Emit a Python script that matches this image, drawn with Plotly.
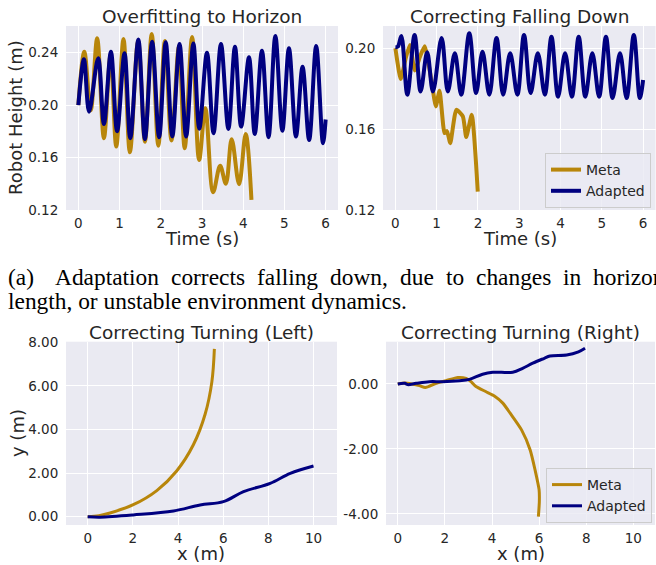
import plotly.graph_objects as go

W, H = 656, 565

# ---------------- data ----------------
# Top-left: Overfitting to Horizon
tl_meta_t = [0, 0.144, 0.30, 0.456, 0.62, 0.78, 0.92, 1.095, 1.25, 1.45, 1.615, 1.78, 1.94, 2.10,
             2.26, 2.44, 2.58, 2.76, 2.93, 3.08, 3.27, 3.44, 3.58, 3.72, 3.90, 4.06, 4.2]
tl_meta_h = [0.200, 0.2408, 0.196, 0.251, 0.1747, 0.238, 0.1683, 0.2505, 0.164, 0.249, 0.172, 0.2543,
             0.169, 0.249, 0.173, 0.245, 0.167, 0.252, 0.158, 0.1976, 0.1335, 0.1536, 0.140, 0.174,
             0.1396, 0.178, 0.1276]
tl_adapt_t = [0, 0.135, 0.26, 0.48, 0.62, 0.79, 0.94, 1.12, 1.26, 1.455, 1.615, 1.79, 1.96, 2.12, 2.28,
              2.455, 2.615, 2.79, 2.935, 3.12, 3.28, 3.46, 3.64, 3.80, 3.95, 4.14, 4.28, 4.455, 4.615,
              4.78, 4.95, 5.11, 5.28, 5.44, 5.60, 5.77, 5.935, 6.0]
tl_adapt_h = [0.200, 0.235, 0.195, 0.2357, 0.1856, 0.2408, 0.180, 0.2395, 0.1747, 0.250, 0.174, 0.2484,
              0.1755, 0.248, 0.176, 0.2466, 0.176, 0.247, 0.182, 0.240, 0.1786, 0.2466, 0.1818, 0.2446,
              0.1836, 0.2365, 0.178, 0.2415, 0.1755, 0.2527, 0.1805, 0.2434, 0.176, 0.2293, 0.1733,
              0.2451, 0.1709, 0.189]

# Top-right: Correcting Falling Down
tr_meta_t = [0, 0.13, 0.25, 0.35, 0.47, 0.60, 0.71, 0.87, 0.98, 1.07, 1.19, 1.25, 1.33, 1.475, 1.635,
             1.715, 1.85, 1.995]
tr_meta_h = [0.200, 0.1847, 0.195, 0.2016, 0.189, 0.196, 0.201, 0.1843, 0.1712, 0.179, 0.158, 0.159,
             0.153, 0.1695, 0.1662, 0.156, 0.167, 0.129]
tr_adapt_t = [0, 0.06, 0.144, 0.29, 0.465, 0.61, 0.77, 0.91, 1.12, 1.27, 1.44, 1.595, 1.79, 1.955, 2.11,
              2.275, 2.45, 2.61, 2.78, 2.955, 3.115, 3.275, 3.45, 3.62, 3.78, 3.94, 4.11, 4.275, 4.44,
              4.60, 4.77, 4.935, 5.10, 5.26, 5.44, 5.60, 5.775, 5.92, 6.0]
tr_adapt_h = [0.2005, 0.2008, 0.206, 0.177, 0.2066, 0.1786, 0.198, 0.1786, 0.2050, 0.1786, 0.1975, 0.177,
              0.2074, 0.1778, 0.1983, 0.177, 0.2050, 0.177, 0.1975, 0.177, 0.2066, 0.1778, 0.1975, 0.177,
              0.2057, 0.176, 0.1975, 0.176, 0.2057, 0.176, 0.1975, 0.176, 0.2057, 0.1753, 0.1975, 0.1753,
              0.2066, 0.1753, 0.1843]

# Bottom-left: Correcting Turning (Left)
bl_meta_x = [0, 0.5, 0.99, 2.02, 3.06, 3.94, 4.68, 5.2, 5.5, 5.61]
bl_meta_y = [0, 0.05, 0.17, 0.55, 1.2, 2.1, 3.3, 4.7, 6.2, 7.7]
bl_adapt_x = [0, 0.55, 2.02, 3.8, 4.98, 6.01, 6.9, 8.08, 8.97, 10.0]
bl_adapt_y = [0, -0.02, 0.08, 0.26, 0.54, 0.69, 1.15, 1.53, 1.99, 2.33]

# Bottom-right: Correcting Turning (Right)
br_meta_x = [0, 0.3, 0.6, 0.92, 1.17, 1.63, 2.05, 2.55, 2.9, 3.11, 3.32, 3.75, 4.1, 4.46, 4.77, 5.26,
             5.62, 5.83, 6.0, 6.01, 5.97]
br_meta_y = [0, 0.03, 0, -0.05, -0.11, 0.02, 0.10, 0.20, 0.17, 0.07, -0.08, -0.24, -0.37, -0.59, -0.9,
             -1.42, -2.03, -2.65, -3.26, -3.62, -4.08]
br_adapt_x = [0, 0.3, 0.42, 0.78, 1.34, 1.91, 2.62, 3.04, 3.6, 4.03, 4.88, 5.3, 5.73, 6.22, 6.46, 7.17,
              7.67, 7.95]
br_adapt_y = [0, 0.02, -0.02, 0.02, 0.07, 0.07, 0.10, 0.14, 0.30, 0.36, 0.36, 0.48, 0.64, 0.79, 0.86,
              0.89, 0.99, 1.10]

series_names = ["Meta", "Adapted"]
titles = ["Overfitting to Horizon", "Correcting Falling Down",
          "Correcting Turning (Left)", "Correcting Turning (Right)"]
time_ticks = [0, 1, 2, 3, 4, 5, 6]
tl_yticks = [0.12, 0.16, 0.20, 0.24]
tr_yticks = [0.12, 0.16, 0.20]
bl_xticks = [0, 2, 4, 6, 8, 10]
bl_yticks = [0, 2, 4, 6, 8]
br_xticks = [0, 2, 4, 6, 8, 10]
br_yticks = [-4, -2, 0]
caption_words = ["(a)", "Adaptation", "corrects", "falling", "down,", "due", "to", "changes", "in", "horizon"]
caption_line2 = "length, or unstable environment dynamics."

# ---------------- styling ----------------
GOLD = "#B8860B"
NAVY = "#000080"
TXT = "#262626"
FONT = "DejaVu Sans"

fig = go.Figure()

def add_pair(mx, my, ax, ay, xa, ya, width, legend=None, meta_smooth=1.0):
    show = legend is not None
    fig.add_trace(go.Scatter(x=mx, y=my, mode="lines", name=series_names[0],
                             line=dict(color=GOLD, width=width, shape="spline", smoothing=meta_smooth),
                             xaxis=xa, yaxis=ya, showlegend=show,
                             legend=legend if show else "legend"))
    fig.add_trace(go.Scatter(x=ax, y=ay, mode="lines", name=series_names[1],
                             line=dict(color=NAVY, width=width, shape="spline", smoothing=1.0),
                             xaxis=xa, yaxis=ya, showlegend=show,
                             legend=legend if show else "legend"))

add_pair(tl_meta_t, tl_meta_h, tl_adapt_t, tl_adapt_h, "x", "y", 4)
add_pair(tr_meta_t, tr_meta_h, tr_adapt_t, tr_adapt_h, "x2", "y2", 4, legend="legend", meta_smooth=0.5)
add_pair(bl_meta_x, bl_meta_y, bl_adapt_x, bl_adapt_y, "x3", "y3", 3)
add_pair(br_meta_x, br_meta_y, br_adapt_x, br_adapt_y, "x4", "y4", 3, legend="legend2", meta_smooth=0.6)

def px_x(p):
    return p / W

def px_y(p):
    return 1 - p / H

base_axis = dict(showgrid=True, gridcolor="white", gridwidth=1, zeroline=False, showline=False,
                 ticks="outside", ticklen=4, tickcolor="rgba(0,0,0,0)",
                 tickfont=dict(family=FONT, size=13.5, color=TXT), tickmode="array")
x_axis = dict(base_axis, ticklen=1)

top_dom = [px_y(210), px_y(26)]
bot_dom = [px_y(525), px_y(341.7)]

fig.update_layout(
    xaxis=dict(x_axis, domain=[px_x(66), px_x(338)], range=[-0.3, 6.3], anchor="y",
               tickvals=time_ticks, ticktext=[str(v) for v in time_ticks]),
    yaxis=dict(base_axis, domain=top_dom, range=[0.1199, 0.2604], anchor="x",
               tickvals=tl_yticks, ticktext=["%.2f" % v for v in tl_yticks]),
    xaxis2=dict(x_axis, domain=[px_x(383), px_x(655.5)], range=[-0.3, 6.3], anchor="y2",
                tickvals=time_ticks, ticktext=[str(v) for v in time_ticks]),
    yaxis2=dict(base_axis, domain=top_dom, range=[0.1199, 0.211], anchor="x2",
                tickvals=tr_yticks, ticktext=["%.2f" % v for v in tr_yticks]),
    xaxis3=dict(x_axis, domain=[px_x(66), px_x(337)], range=[-0.96, 11.04], anchor="y3",
                tickvals=bl_xticks, ticktext=[str(v) for v in bl_xticks]),
    yaxis3=dict(base_axis, domain=bot_dom, range=[-0.38, 8.03], anchor="x3",
                tickvals=bl_yticks, ticktext=["%.2f" % v for v in bl_yticks]),
    xaxis4=dict(x_axis, domain=[px_x(386), px_x(655)], range=[-0.5, 10.92], anchor="y4",
                tickvals=br_xticks, ticktext=[str(v) for v in br_xticks]),
    yaxis4=dict(base_axis, domain=bot_dom, range=[-4.34, 1.30], anchor="x4",
                tickvals=br_yticks, ticktext=["%.2f" % v for v in br_yticks]),
    plot_bgcolor="#EAEAF2",
    paper_bgcolor="white",
    width=W, height=H,
    margin=dict(l=0, r=0, t=0, b=0, autoexpand=False),
    legend=dict(x=px_x(651), xanchor="right", y=px_y(208), yanchor="bottom",
                bgcolor="rgba(234,234,242,0.8)", bordercolor="#CCCCCC", borderwidth=1,
                font=dict(family=FONT, size=14, color=TXT), tracegroupgap=0, itemwidth=30),
    legend2=dict(x=px_x(652), xanchor="right", y=px_y(523), yanchor="bottom",
                 bgcolor="rgba(234,234,242,0.8)", bordercolor="#CCCCCC", borderwidth=1,
                 font=dict(family=FONT, size=14, color=TXT), tracegroupgap=0, itemwidth=30),
    font=dict(family=FONT, color=TXT),
)

annots = []
def text(t, x, y, size, angle=0, family=FONT, xanchor="center", color=TXT):
    annots.append(dict(text=t, x=px_x(x), y=px_y(y), xref="paper", yref="paper",
                       showarrow=False, xanchor=xanchor, yanchor="middle", textangle=angle,
                       font=dict(family=family, size=size, color=color)))

# subplot titles
text(titles[0], 202, 17, 18.5)
text(titles[1], 519.5, 17, 18.5)
text(titles[2], 201.5, 332, 18.5)
text(titles[3], 520, 332, 18.5)
# axis titles
text("Time (s)", 202, 238.5, 18)
text("Time (s)", 520, 238.5, 18)
text("x (m)", 201, 553, 18)
text("x (m)", 521, 553, 18)
text("Robot Height (m)", 16, 118, 18, angle=-90)
text("y (m)", 18, 433, 18, angle=-90)

# caption (justified first line, so word by word)
caption_x = [6, 53, 169, 255, 328, 398, 444, 474, 561, 591]
for w, xx in zip(caption_words, caption_x):
    text(w, xx, 277, 23.4, family="Liberation Serif", xanchor="left", color="black")
text(caption_line2, 6, 301, 23.4, family="Liberation Serif", xanchor="left", color="black")

fig.update_layout(annotations=annots)
fig.write_html("out.html")
